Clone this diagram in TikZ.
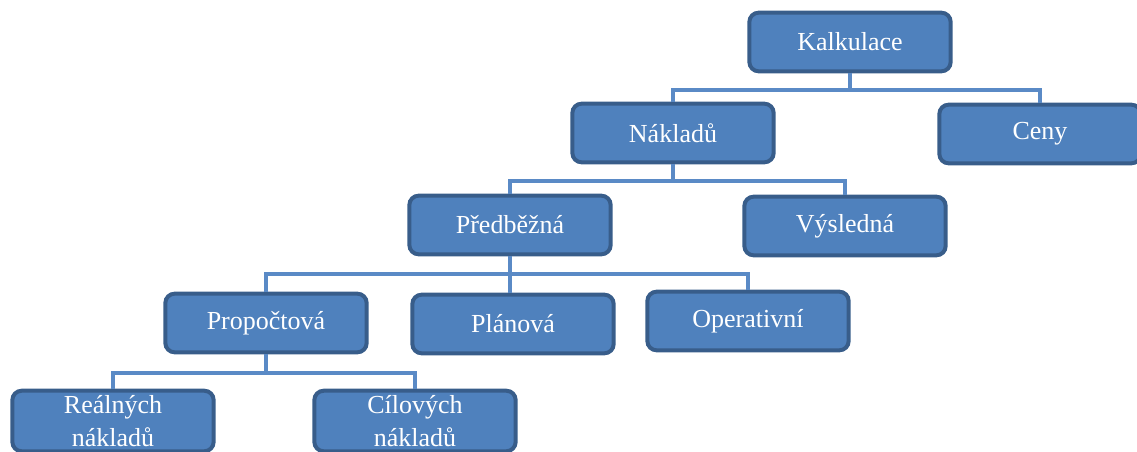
\documentclass[tikz,border=0pt]{standalone}
\usepackage{fontspec}
\setmainfont{Liberation Serif}
\usepackage{xcolor}

\definecolor{boxfill}{HTML}{4F81BD}
\definecolor{boxedge}{HTML}{385D8A}
\definecolor{linkblue}{HTML}{5A8AC6}

\begin{document}
\begin{tikzpicture}[
    x=0.75pt, y=-0.75pt,
    unit/.style={rectangle, draw=boxedge, line width=3pt, rounded corners=7pt, fill=boxfill, text=white, minimum width=151pt, minimum height=44pt, align=center, font=\fontsize{19.5}{23}\selectfont},
    link/.style={draw=linkblue, line width=3pt},
]
\useasboundingbox (0,0) rectangle (1137,452);

% Top levels
\node[unit] (kalk) at (850,42) {Kalkulace};
\node[unit] (nakl) at (673,133) {Nákladů};
\node[unit] (ceny) at (1040,134) {Ceny};

% Second level
\node[unit] (pred) at (510,225) {Předběžná};
\node[unit] (vysl) at (845,226) {Výsledná};

% Third level
\node[unit] (prop) at (266,323) {Propočtová};
\node[unit] (plan) at (513,324) {Plánová};
\node[unit] (oper) at (748,321) {Operativní};

% Bottom level
\node[unit] (real) at (113,421) {Reálných\\[2pt]nákladů};
\node[unit] (cil) at (415,421) {Cílových\\[2pt]nákladů};

\draw[link] (kalk.south) -- ++(0,17) -| (nakl.north);
\draw[link] (kalk.south) -- ++(0,17) -| (ceny.north);
\draw[link] (nakl.south) -- ++(0,17) -| (pred.north);
\draw[link] (nakl.south) -- ++(0,17) -| (vysl.north);
\draw[link] (pred.south) -- ++(0,18) -| (prop.north);
\draw[link] (pred.south) -- (pred.south |- plan.north);
\draw[link] (pred.south) -- ++(0,18) -| (oper.north);
\draw[link] (prop.south) -- ++(0,19) -| (real.north);
\draw[link] (prop.south) -- ++(0,19) -| (cil.north);

\end{tikzpicture}
\end{document}
